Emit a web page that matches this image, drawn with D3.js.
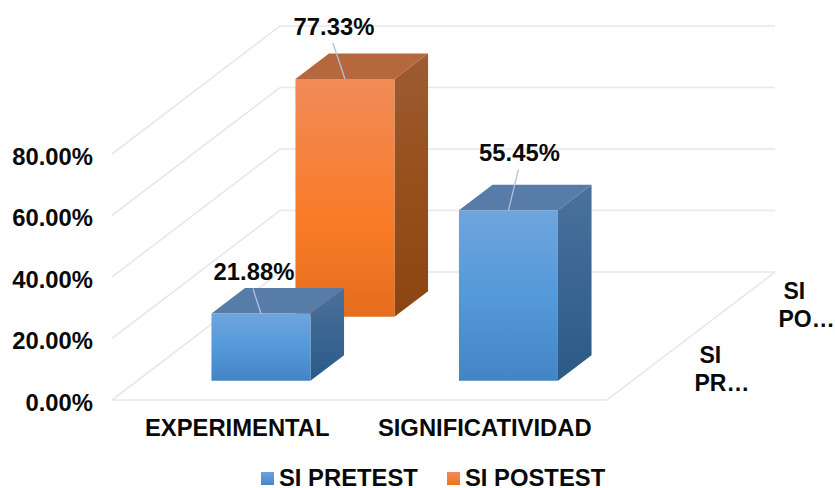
<!DOCTYPE html>
<html>
<head>
<meta charset="utf-8">
<script src="https://cdn.jsdelivr.net/npm/d3@7"></script>
<style>
  body { margin: 0; background: #fff; }
  text { font-family: "Liberation Sans", Arial, sans-serif; font-weight: bold; font-size: 23.8px; fill: #0a0a0a; }
  .depth text { font-size: 23px; }
</style>
</head>
<body>
<svg id="chart" width="835" height="488"></svg>
<script>
let categories = ["EXPERIMENTAL", "SIGNIFICATIVIDAD"];
let seriesNames = ["SI PRETEST", "SI POSTEST"];
let pretest = [21.88, 55.45];
let postest = [77.33, null];
let yTicks = [0, 20, 40, 60, 80];

let svg = d3.select("#chart");
let defs = svg.append("defs");

function gradient(id, stops) {
  let g = defs.append("linearGradient").attr("id", id)
    .attr("x1", 0).attr("y1", 0).attr("x2", 0).attr("y2", 1);
  stops.forEach(s => g.append("stop").attr("offset", s[0]).attr("stop-color", s[1]));
}
gradient("blueFront", [[0, "#6fa5dd"], [0.5, "#5499da"], [1, "#4384c4"]]);
gradient("blueSide", [[0, "#4a719c"], [1, "#2b5a87"]]);
gradient("orangeFront", [[0, "#f18b58"], [0.6, "#f97b27"], [1, "#e66d1c"]]);
gradient("orangeSide", [[0, "#9c5c32"], [0.5, "#974f1b"], [1, "#8c4411"]]);
gradient("blueKey", [[0, "#6ba3dc"], [1, "#4686c8"]]);
gradient("orangeKey", [[0, "#f18b58"], [1, "#ee741f"]]);

// scales: x along the front edge, y up the wall, z into the picture
let x = d3.scaleBand().domain(categories).range([112, 607]).paddingInner(0.6).paddingOuter(0.3);
let y = d3.scaleLinear().domain([0, 80]).range([400, 154]);
let z = d3.scaleBand().domain(seriesNames).range([0, 128]).paddingInner(0.6).paddingOuter(0.3);
let skew = 168 / 128; // horizontal shift per px of depth

function pt(px, value, depth) {
  return [px + depth * skew, y(value) - depth];
}

// walls and floor
let grid = svg.append("g").attr("fill", "none").attr("stroke", "#e6e8ef").attr("stroke-width", 1.6);
let left = x.range()[0], right = x.range()[1], back = z.range()[1];
grid.selectAll(".wall")
  .data(yTicks)
  .join("polyline")
    .classed("wall", true)
    .attr("points", d => [pt(left, d, 0), pt(left, d, back), pt(right, d, back)].join(" "));
grid.append("polyline")
  .attr("points", [pt(left, 0, 0), pt(right, 0, 0), pt(right, 0, back)].join(" "));

// one row per series, back row first so the front row covers it
let rows = [
  {name: seriesNames[1], values: postest, color: "orange"},
  {name: seriesNames[0], values: pretest, color: "blue"},
];
let bars = [];
rows.forEach(r => {
  r.values.forEach((v, i) => {
    if (v !== null) bars.push({cat: categories[i], value: v, name: r.name, color: r.color});
  });
});

let topColor = {blue: "#567ca7", orange: "#b5673e"};
let barG = svg.selectAll(".bar3d").data(bars).join("g").classed("bar3d", true);

function face(b, corners) {
  let x0 = x(b.cat), x1 = x0 + x.bandwidth();
  let z0 = z(b.name), z1 = z0 + z.bandwidth();
  return corners.map(c => pt(c[0] ? x1 : x0, c[1] ? b.value : 0, c[2] ? z1 : z0)).join(" ");
}

barG.append("polygon") // side
  .attr("fill", d => `url(#${d.color}Side)`)
  .attr("points", d => face(d, [[1, 0, 0], [1, 1, 0], [1, 1, 1], [1, 0, 1]]));
barG.append("polygon") // top
  .attr("fill", d => topColor[d.color])
  .attr("points", d => face(d, [[0, 1, 0], [1, 1, 0], [1, 1, 1], [0, 1, 1]]));
barG.append("polygon") // front
  .attr("fill", d => `url(#${d.color}Front)`)
  .attr("points", d => face(d, [[0, 0, 0], [1, 0, 0], [1, 1, 0], [0, 1, 0]]));

// data labels with leader lines
let labelOffset = {"21.88": [-8, -25], "77.33": [-12, -36], "55.45": [10, -41]};

function barTop(d) {
  return pt(x(d.cat) + x.bandwidth() / 2, d.value, z(d.name));
}
svg.selectAll(".leader")
  .data(bars)
  .join("line")
    .classed("leader", true)
    .attr("stroke", "#b4c1d3")
    .attr("stroke-width", 1.3)
    .attr("x1", d => barTop(d)[0])
    .attr("y1", d => barTop(d)[1])
    .attr("x2", d => barTop(d)[0] + labelOffset[d.value][0])
    .attr("y2", d => barTop(d)[1] + labelOffset[d.value][1]);
svg.selectAll(".value")
  .data(bars)
  .join("text")
    .classed("value", true)
    .attr("text-anchor", "middle")
    .attr("x", d => barTop(d)[0] + labelOffset[d.value][0] + 1)
    .attr("y", d => barTop(d)[1] + labelOffset[d.value][1] - 8.5)
    .text(d => d3.format(".2f")(d.value) + "%");

// axes
let yAxis = d3.axisLeft(y).tickValues(yTicks).tickSize(0).tickPadding(0)
  .tickFormat(d => d3.format(".2f")(d) + "%");
svg.append("g").attr("transform", "translate(93,0)").call(yAxis)
  .call(g => g.select(".domain").remove())
  .call(g => g.selectAll("text").attr("dy", 10));

let xAxis = d3.axisBottom(x).tickSize(0).tickPadding(0);
svg.append("g").attr("transform", "translate(1.5,436)").call(xAxis)
  .call(g => g.select(".domain").remove())
  .call(g => g.selectAll("text").attr("y", 0).attr("dy", 0));

// depth axis labels, cut short as in the original
let depthLabels = [["SI", "PR…"], ["SI", "PO…"]];
let depthG = svg.selectAll(".depth").data(seriesNames).join("g").classed("depth", true)
  .attr("transform", d => {
    let p = pt(right, 0, z(d) + z.bandwidth() / 2);
    return `translate(${p[0] + 45.5},${p[1] - 5})`;
  });
depthG.append("text").attr("x", 5).attr("y", 0).text((d, i) => depthLabels[i][0]);
depthG.append("text").attr("x", 0).attr("y", 28).text((d, i) => depthLabels[i][1]);

// legend
let legendX = [261, 447];
let legend = svg.selectAll(".key").data(seriesNames).join("g").classed("key", true)
  .attr("transform", (d, i) => `translate(${legendX[i]},472)`);
legend.append("rect").attr("width", 13).attr("height", 13)
  .attr("fill", (d, i) => i == 0 ? "url(#blueKey)" : "url(#orangeKey)");
legend.append("text").attr("x", 18).attr("y", 14).text(d => d);
</script>
</body>
</html>
